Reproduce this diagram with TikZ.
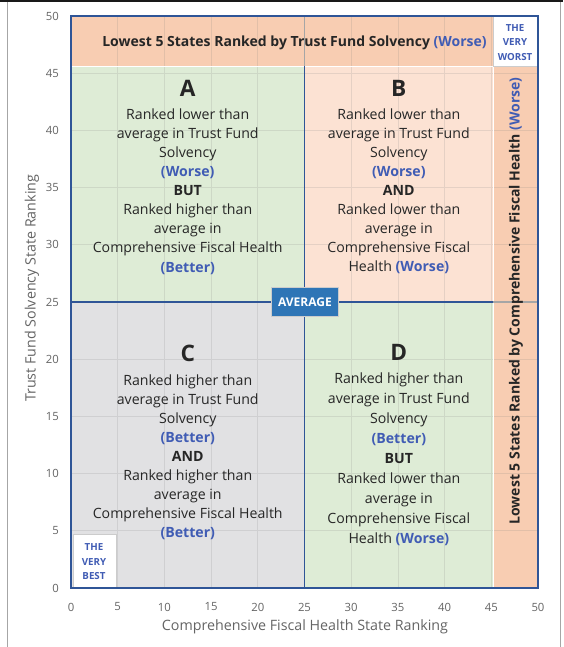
\documentclass[tikz,border=0pt]{standalone}
\usepackage{fontspec}
\setmainfont{Open Sans}
\usetikzlibrary{positioning}
\definecolor{o}{RGB}{248,205,178}
\definecolor{p}{RGB}{252,226,211}
\definecolor{l}{RGB}{222,236,214}
\definecolor{s}{RGB}{225,225,227}
\definecolor{u}{RGB}{47,85,151}
\definecolor{t}{RGB}{64,92,180}
\definecolor{a}{RGB}{46,117,182}
\definecolor{k}{RGB}{100,100,100}
\tikzstyle{every node}=[inner sep=0pt]
\tikzstyle{letter}=[font=\fontsize{17}{20}\selectfont\bfseries, text=black!85]
\tikzstyle{block}=[align=center, font=\fontsize{10.6}{14.3}\selectfont, text=black!85]
\tikzstyle{strip}=[font=\fontsize{10.5}{12}\selectfont\bfseries, text=black!85]
\tikzstyle{tick}=[font=\fontsize{8.5}{10}\selectfont, text=k]
\tikzstyle{title}=[font=\fontsize{10.7}{12}\selectfont, text=k]
\tikzstyle{corner}=[align=center, font=\fontsize{7.3}{10.75}\selectfont\bfseries, text=t]
\newcommand{\wrs}{\textcolor{t}{\bfseries(Worse)}}
\newcommand{\btr}{\textcolor{t}{\bfseries(Better)}}

\begin{document}
\begin{tikzpicture}[x=7.005pt,y=8.58pt,node distance=9pt]
\useasboundingbox (-7.602,-5.157) rectangle (52.68,51.40);

% frame of the figure
\draw[line width=1.5pt, black!90] (-7.602,51.32) -- (52.68,51.32);
\draw[gray!70, line width=0.8pt] (-6.8,51.2) -- (-6.8,-5.157);
\draw[gray!70, line width=0.8pt] (52.36,51.2) -- (52.36,-5.157);

% regions
\fill[o] (0,45.6) rectangle (45.2,50);
\fill[o] (45.2,0) rectangle (50,45.6);
\fill[l] (0,25) rectangle (25,45.6);
\fill[p] (25,25) rectangle (45.2,45.6);
\fill[s] (0,0) rectangle (25,25);
\fill[l] (25,0) rectangle (45.2,25);
\draw[gray, opacity=0.18, line width=0.5pt] (0,0) grid[step=5] (50,50);
\draw[white, line width=0.6pt] (0,45.6) -- (45.2,45.6);
\draw[white, line width=0.6pt] (45.2,0) -- (45.2,45.6);
\draw[fill=white, draw=gray!40] (45.2,45.6) rectangle (50,50);
\draw[fill=white, draw=gray!40] (0.2,0) rectangle (4.8,4.7);

% dividers
\draw[gray!70, line width=0.8pt] (25,45.6) -- (25,50);
\draw[gray!70, line width=0.8pt] (45.2,25) -- (50,25);
\draw[u, line width=1pt] (25,0) -- (25,45.6);
\draw[u, line width=1pt] (0,25) -- (45.2,25);
\draw[u, line width=1.1pt] (0,0) rectangle (50,50);

% axes
\foreach \v in {0,5,...,50}
{
	\node[tick, anchor=east] (y\v) at (-1.28,\v) {\v};
	\node[tick] (x\v) at (\v,-1.66) {\v};
}
\node[title] (xt) at (25.05,-3.41) {Comprehensive Fiscal Health State Ranking};
\node[title, rotate=90] (yt) at (-4.18,26.2) {Trust Fund Solvency State Ranking};

% strips and corners
\node[strip] (top) at (23.93,47.64) {Lowest 5 States Ranked by Trust Fund Solvency \textcolor{t}{(Worse)}};
\node[strip, rotate=90] (side) at (47.64,25.09) {Lowest 5 States Ranked by Comprehensive Fiscal Health \textcolor{t}{(Worse)}};
\node[corner] (worst) at (47.54,47.7) {THE\\VERY\\WORST};
\node[corner] (best) at (2.46,2.3) {THE\\VERY\\BEST};
\node[fill=a, draw=gray!40, text=white, font=\fontsize{9}{10}\selectfont\bfseries,
	minimum width=50pt, minimum height=21.5pt] (avg) at (25.05,25) {AVERAGE};

% quadrants
\node[letter] (A) at (12.5,43.7) {A};
\node[block, below=of A] (A') {Ranked lower than\\average in Trust Fund\\Solvency\\\wrs\\\textbf{BUT}\\Ranked higher than\\average in\\Comprehensive Fiscal Health\\\btr};

\node[letter] (B) at (35.1,43.7) {B};
\node[block, below=of B] (B') {Ranked lower than\\average in Trust Fund\\Solvency\\\wrs\\\textbf{AND}\\Ranked lower than\\average in\\Comprehensive Fiscal\\Health \wrs};

\node[letter] (C) at (12.5,20.5) {C};
\node[block, below=of C] (C') {Ranked higher than\\average in Trust Fund\\Solvency\\\btr\\\textbf{AND}\\Ranked higher than\\average in\\Comprehensive Fiscal Health\\\btr};

\node[letter] (D) at (35.1,20.6) {D};
\node[block, below=of D, font=\fontsize{10.6}{15}\selectfont] (D') {Ranked higher than\\average in Trust Fund\\Solvency\\\btr\\\textbf{BUT}\\Ranked lower than\\average in\\Comprehensive Fiscal\\Health \wrs};

\end{tikzpicture}
\end{document}
